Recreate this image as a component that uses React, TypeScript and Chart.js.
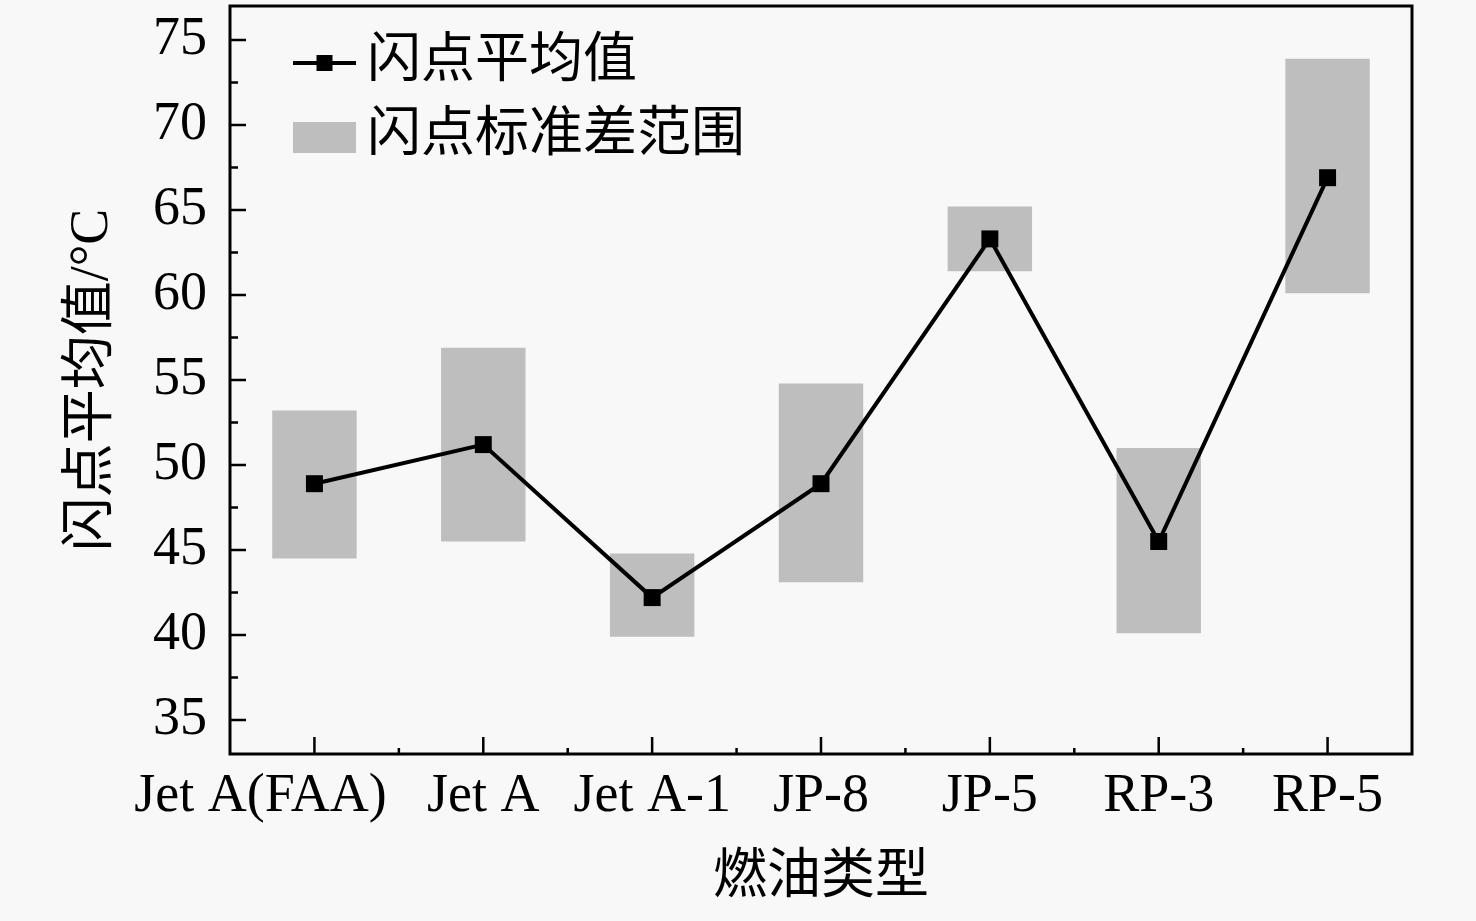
import React, { useEffect, useRef } from 'react';
import { Chart, registerables, Plugin } from 'chart.js';

Chart.register(...registerables);

// fuel types along the x axis (first label padded so it sits left of its tick, as in the source)
const fuels = ['Jet A(FAA)' + ' '.repeat(8), 'Jet A', 'Jet A-1', 'JP-8', 'JP-5', 'RP-3', 'RP-5'];
const flashMean = [48.9, 51.2, 42.2, 48.9, 63.3, 45.5, 66.9];
const flashLow = [44.5, 45.5, 39.9, 43.1, 61.4, 40.1, 60.1];
const flashHigh = [53.2, 56.9, 44.8, 54.8, 65.2, 51.0, 73.9];
const yTicks = [35, 40, 45, 50, 55, 60, 65, 70, 75];

const FONT = '"Liberation Serif", "Times New Roman", "Noto Sans CJK SC", serif';
const BOX_GREY = '#bebebe';

const framePlugin: Plugin = {
    id: 'frame',
    beforeDraw(chart) {
        const { ctx } = chart;
        ctx.save();
        ctx.fillStyle = '#f8f8f8';
        ctx.fillRect(0, 0, chart.width, chart.height);
        ctx.restore();
    },
    afterDraw(chart) {
        const { ctx, chartArea } = chart;
        const x = chart.scales.x;
        const y = chart.scales.y;
        ctx.save();
        ctx.strokeStyle = '#000';
        ctx.lineWidth = 2.5;
        ctx.beginPath();
        // major y ticks, pointing inward
        yTicks.forEach((v) => {
            const py = y.getPixelForValue(v);
            ctx.moveTo(chartArea.left, py);
            ctx.lineTo(chartArea.left + 16, py);
        });
        // minor y ticks halfway between
        for (let i = 0; i < yTicks.length - 1; i++) {
            const py = y.getPixelForValue((yTicks[i] + yTicks[i + 1]) / 2);
            ctx.moveTo(chartArea.left, py);
            ctx.lineTo(chartArea.left + 8, py);
        }
        // x ticks at categories and short ones between them
        for (let i = 0; i < fuels.length; i++) {
            const px = x.getPixelForValue(i);
            ctx.moveTo(px, chartArea.bottom);
            ctx.lineTo(px, chartArea.bottom - 17);
            if (i < fuels.length - 1) {
                const pm = x.getPixelForValue(i + 0.5);
                ctx.moveTo(pm, chartArea.bottom);
                ctx.lineTo(pm, chartArea.bottom - 6);
            }
        }
        ctx.stroke();

        ctx.lineWidth = 3;
        ctx.strokeRect(chartArea.left, chartArea.top, chartArea.right - chartArea.left, chartArea.bottom - chartArea.top);

        // legend inside the plot, top left
        const lx = chartArea.left + 63;
        const lw = 63;
        const ly1 = chartArea.top + 57;
        const ly2 = chartArea.top + 131;
        ctx.lineWidth = 4;
        ctx.beginPath();
        ctx.moveTo(lx, ly1);
        ctx.lineTo(lx + lw, ly1);
        ctx.stroke();
        ctx.fillStyle = '#000';
        ctx.fillRect(lx + lw / 2 - 8, ly1 - 8, 16, 16);
        ctx.fillStyle = BOX_GREY;
        ctx.fillRect(lx, ly2 - 15, lw, 31);

        ctx.fillStyle = '#000';
        ctx.font = `54px ${FONT}`;
        ctx.textAlign = 'left';
        ctx.textBaseline = 'middle';
        ctx.fillText(String(chart.data.datasets[1].label), lx + lw + 11, ly1);
        ctx.fillText(String(chart.data.datasets[0].label), lx + lw + 11, ly2);
        ctx.restore();
    },
};

const App: React.FC = () => {
    const chartRef = useRef<HTMLCanvasElement>(null);
    const chartInstance = useRef<Chart | null>(null);

    useEffect(() => {
        document.body.style.margin = '0';
        document.body.style.background = '#f8f8f8';
        if (!chartRef.current) return;
        if (chartInstance.current) {
            chartInstance.current.destroy();
        }
        const ctx = chartRef.current.getContext('2d');
        if (!ctx) return;

        chartInstance.current = new Chart(ctx, {
            type: 'bar',
            data: {
                labels: fuels,
                datasets: [
                    {
                        type: 'bar',
                        label: '闪点标准差范围',
                        data: flashLow.map((lo, i) => [lo, flashHigh[i]]),
                        backgroundColor: BOX_GREY,
                        borderWidth: 0,
                        barPercentage: 1,
                        categoryPercentage: 0.5,
                        order: 2,
                    },
                    {
                        type: 'line',
                        label: '闪点平均值',
                        data: flashMean,
                        borderColor: '#000',
                        borderWidth: 4,
                        tension: 0,
                        pointStyle: 'rect',
                        pointRadius: 12,
                        pointBackgroundColor: '#000',
                        pointBorderWidth: 0,
                        order: 1,
                    },
                ],
            },
            options: {
                responsive: false,
                animation: false,
                devicePixelRatio: 1,
                layout: { autoPadding: false, padding: { top: 6, right: 64, left: 0, bottom: 0 } },
                plugins: {
                    legend: { display: false },
                    tooltip: { enabled: false },
                },
                scales: {
                    x: {
                        offset: true,
                        grid: { display: false, drawTicks: false },
                        border: { display: false },
                        ticks: {
                            autoSkip: false,
                            maxRotation: 0,
                            minRotation: 0,
                            padding: 10,
                            color: '#000',
                            font: { family: FONT, size: 54 },
                        },
                        title: {
                            display: true,
                            text: '燃油类型',
                            color: '#000',
                            font: { family: FONT, size: 54 },
                            padding: { top: 0, bottom: 10 },
                        },
                        afterFit: (scale) => {
                            scale.height = 167;
                            scale.paddingLeft = 0;
                            scale.paddingRight = 0;
                        },
                    },
                    y: {
                        min: 33,
                        max: 77,
                        grid: { display: false, drawTicks: false },
                        border: { display: false },
                        afterBuildTicks: (scale) => {
                            scale.ticks = yTicks.map((v) => ({ value: v }));
                        },
                        ticks: {
                            padding: 23,
                            color: '#000',
                            font: { family: FONT, size: 54 },
                        },
                        title: {
                            display: true,
                            text: '闪点平均值/°C',
                            color: '#000',
                            font: { family: FONT, size: 54 },
                            padding: { top: 60, bottom: 0 },
                        },
                        afterFit: (scale) => {
                            scale.width = 230;
                            scale.paddingTop = 0;
                            scale.paddingBottom = 0;
                        },
                    },
                },
            },
            plugins: [framePlugin],
        });

        return () => {
            if (chartInstance.current) {
                chartInstance.current.destroy();
                chartInstance.current = null;
            }
        };
    }, []);

    return <canvas ref={chartRef} width={1476} height={921} />;
};

export default App;
